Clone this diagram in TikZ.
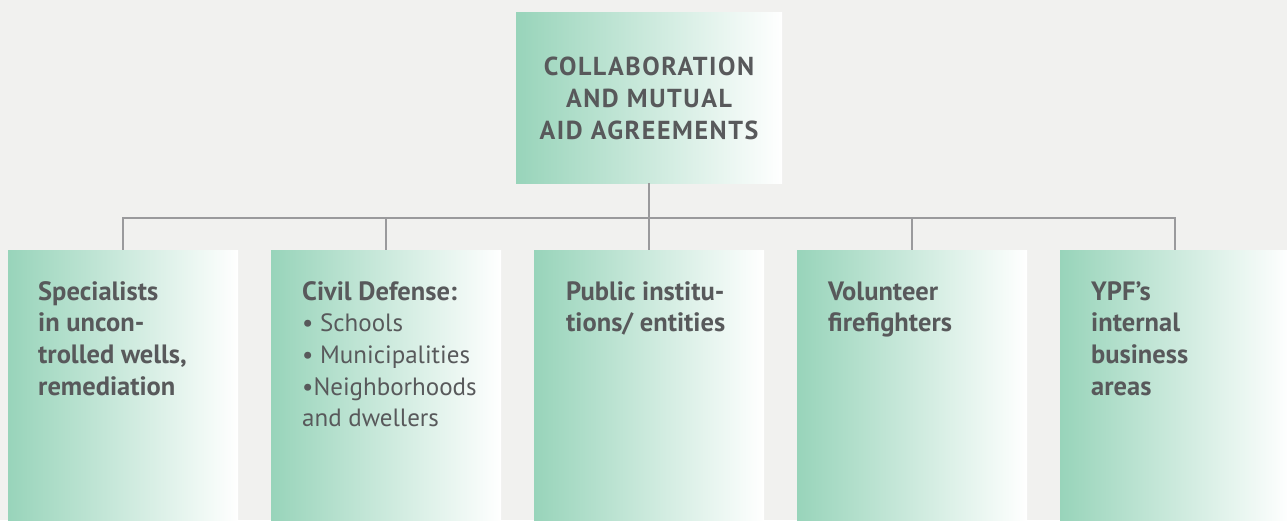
\documentclass[tikz,border=0pt]{standalone}
\usepackage{fontspec}
\setmainfont{PT Sans}
\definecolor{bg}{RGB}{241,241,239}
\definecolor{gr}{RGB}{152,212,186}
\definecolor{txt}{RGB}{88,89,91}
\definecolor{ln}{RGB}{154,154,156}
\begin{document}
\begin{tikzpicture}[x=1pt,y=-1pt,
  box/.style={rectangle, inner sep=0pt, draw=none, left color=gr, right color=white},
  topbox/.style={box, minimum width=266pt, minimum height=171pt},
  subbox/.style={box, minimum width=230pt, minimum height=270pt},
  lbl/.style={inner sep=0pt, anchor=north west, align=left, text=txt, font=\fontsize{26.5}{31.6}\selectfont\bfseries},
  lblr/.style={lbl, font=\fontsize{25}{31.6}\selectfont\mdseries},
  ttl/.style={inner sep=0pt, anchor=north, align=center, text=txt, font=\fontsize{26}{32}\selectfont\bfseries\addfontfeature{LetterSpace=6}},
  conn/.style={draw=ln, line width=2.2pt}]
\fill[bg] (0,0) rectangle (1287,520);
\useasboundingbox (0,0) rectangle (1287,520);
\node[topbox] (top) at (649,97.5) {};
\node[subbox] (b1) at (123,385) {};
\node[subbox] (b2) at (386,385) {};
\node[subbox] (b3) at (649,385) {};
\node[subbox] (b4) at (912,385) {};
\node[subbox] (b5) at (1175,385) {};
\coordinate (bus) at (0,218);
\draw[conn] (top.south) -- (b3.north);
\draw[conn] (b1.north) -- (b1.north |- bus) -- (b5.north |- bus) -- (b5.north);
\draw[conn] (b2.north) -- (b2.north |- bus);
\draw[conn] (b4.north) -- (b4.north |- bus);
\node[ttl] (title) at (649,55) {\rule{0pt}{20pt}COLLABORATION\\AND MUTUAL\\AID AGREEMENTS};
\node[lbl] (t1) at (38,280) {\rule{0pt}{20pt}Specialists\\in uncon-\\trolled wells,\\remediation};
\node[lblr] (t2) at (302,280) {\rule{0pt}{20pt}{\fontsize{26.5}{31.6}\selectfont\bfseries Civil Defense:}\\• Schools\\• Municipalities\\•Neighborhoods\\and dwellers};
\node[lbl] (t3) at (566,280) {\rule{0pt}{20pt}Public institu-\\tions/ entities};
\node[lbl] (t4) at (828,280) {\rule{0pt}{20pt}Volunteer\\firefighters};
\node[lbl] (t5) at (1091,280) {\rule{0pt}{20pt}YPF’s\\internal\\business\\areas};
\end{tikzpicture}
\end{document}
